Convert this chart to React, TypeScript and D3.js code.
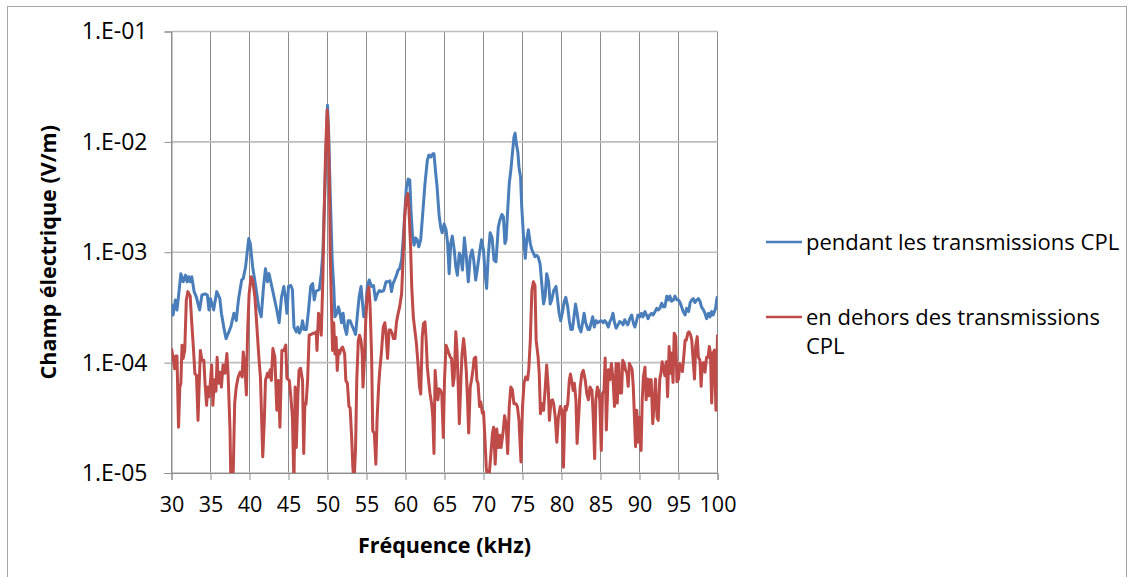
import React, { useEffect, useRef } from "react";
import * as d3 from "d3";

// frequency (kHz), field (V/m)
const duringCPL: [number, number][] = [
  [30.0, 3.4e-4], [30.2, 2.7e-4], [30.5, 3.7e-4], [30.7, 3.0e-4], [30.85, 3.7e-4], [31.2, 6.4e-4], [31.5, 5.4e-4],
  [31.8, 6.2e-4], [32.0, 5.4e-4], [32.2, 6.0e-4], [32.4, 5.4e-4], [32.6, 6.0e-4], [32.9, 4.4e-4], [33.2, 3.9e-4],
  [33.4, 3.4e-4], [33.6, 3.0e-4], [33.9, 4.1e-4], [34.3, 4.2e-4], [34.6, 4.1e-4], [34.8, 3.0e-4], [35.0, 3.8e-4],
  [35.4, 3.0e-4], [35.8, 4.4e-4], [36.2, 3.8e-4], [36.4, 2.8e-4], [36.75, 2.0e-4], [37.0, 1.65e-4], [37.35, 1.9e-4],
  [37.6, 2.1e-4], [38.0, 2.8e-4], [38.3, 2.4e-4], [38.6, 3.8e-4], [39.0, 5.6e-4], [39.2, 5.8e-4], [39.5, 7.4e-4],
  [39.9, 1.33e-3], [40.1, 1.2e-3], [40.4, 7.4e-4], [40.8, 4.9e-4], [41.2, 3.1e-4], [41.5, 2.6e-4], [41.8, 4.9e-4],
  [42.05, 7.1e-4], [42.3, 5.4e-4], [42.5, 6.4e-4], [43.0, 4.4e-4], [43.5, 3.0e-4], [43.8, 2.3e-4], [44.1, 3.9e-4],
  [44.4, 4.9e-4], [44.6, 3.9e-4], [44.8, 2.8e-4], [45.0, 4.9e-4], [45.3, 5.0e-4], [45.5, 4.6e-4], [45.7, 2.1e-4],
  [46.0, 1.9e-4], [46.2, 2.1e-4], [46.4, 1.85e-4], [46.6, 2.0e-4], [46.8, 2.4e-4], [47.0, 2.0e-4], [47.3, 2.0e-4],
  [47.55, 2.9e-4], [47.85, 4.9e-4], [48.1, 5.2e-4], [48.3, 3.7e-4], [48.5, 4.4e-4], [48.7, 4.5e-4], [48.95, 4.6e-4],
  [49.2, 6.4e-4], [49.4, 9.7e-4], [49.6, 2.6e-3], [49.8, 7.8e-3], [50.0, 2.15e-2], [50.15, 1.19e-2], [50.35, 3.4e-3],
  [50.6, 8.5e-4], [50.8, 4.9e-4], [50.95, 2.6e-4], [51.2, 2.8e-4], [51.4, 3.2e-4], [51.6, 2.8e-4], [51.8, 2.3e-4],
  [52.0, 2.8e-4], [52.2, 2.1e-4], [52.45, 1.8e-4], [52.65, 2.4e-4], [52.9, 2.4e-4], [53.1, 2.2e-4], [53.35, 2.0e-4],
  [53.6, 1.8e-4], [53.85, 2.8e-4], [54.05, 3.9e-4], [54.3, 4.9e-4], [54.45, 3.7e-4], [54.65, 2.6e-4], [54.9, 3.0e-4],
  [55.1, 4.9e-4], [55.35, 5.6e-4], [55.65, 4.9e-4], [55.9, 5.0e-4], [56.15, 3.7e-4], [56.4, 4.2e-4], [56.65, 4.5e-4],
  [56.9, 4.4e-4], [57.2, 4.5e-4], [57.5, 5.4e-4], [57.8, 5.4e-4], [58.0, 5.5e-4], [58.2, 4.4e-4], [58.4, 5.2e-4],
  [58.6, 5.6e-4], [58.85, 6.2e-4], [59.05, 6.9e-4], [59.25, 7.1e-4], [59.5, 8.5e-4], [59.7, 1.3e-3], [59.9, 2.2e-3],
  [60.1, 3.8e-3], [60.35, 4.6e-3], [60.55, 4.5e-3], [60.7, 2.4e-3], [60.9, 1.4e-3], [61.1, 1.16e-3], [61.3, 1.35e-3],
  [61.5, 1.3e-3], [61.7, 1.12e-3], [61.95, 1.3e-3], [62.2, 2.2e-3], [62.5, 4.2e-3], [62.8, 6.8e-3], [63.0, 7.6e-3],
  [63.25, 7.3e-3], [63.5, 7.8e-3], [63.65, 7.8e-3], [63.85, 5.4e-3], [64.05, 3.9e-3], [64.3, 2.2e-3], [64.5, 1.7e-3],
  [64.7, 1.5e-3], [64.95, 1.8e-3], [65.2, 1.6e-3], [65.4, 1.2e-3], [65.6, 6.4e-4], [65.8, 1.2e-3], [66.0, 1.4e-3],
  [66.25, 1.05e-3], [66.45, 7.4e-4], [66.65, 6.2e-4], [66.9, 9.8e-4], [67.1, 9.1e-4], [67.3, 6.9e-4], [67.55, 1.35e-3],
  [67.8, 9.1e-4], [68.05, 5.4e-4], [68.3, 9.1e-4], [68.55, 1.05e-3], [68.75, 8.5e-4], [69.0, 5.6e-4], [69.25, 7.4e-4],
  [69.5, 1.0e-3], [69.75, 1.3e-3], [70.0, 1.05e-3], [70.2, 6.4e-4], [70.4, 4.7e-4], [70.6, 9.1e-4], [70.85, 1.5e-3],
  [71.1, 1.35e-3], [71.35, 8.5e-4], [71.6, 8.2e-4], [71.9, 1.7e-3], [72.1, 1.95e-3], [72.35, 2.2e-3], [72.55, 2.1e-3],
  [72.75, 1.2e-3], [72.9, 1.3e-3], [73.1, 2.4e-3], [73.3, 4.2e-3], [73.5, 5.5e-3], [73.7, 7.8e-3], [73.9, 1.1e-2],
  [74.05, 1.2e-2], [74.2, 9.7e-3], [74.4, 8.1e-3], [74.55, 5.9e-3], [74.75, 4.8e-3], [74.9, 2.6e-3], [75.1, 1.5e-3],
  [75.35, 8.8e-4], [75.55, 1.3e-3], [75.75, 1.6e-3], [76.0, 1.2e-3], [76.2, 1.05e-3], [76.4, 9.8e-4], [76.6, 9.1e-4],
  [76.8, 9.4e-4], [77.0, 9.1e-4], [77.25, 7.9e-4], [77.5, 4.9e-4], [77.7, 3.4e-4], [77.9, 4.0e-4], [78.1, 6.4e-4],
  [78.35, 5.4e-4], [78.55, 3.4e-4], [78.75, 3.7e-4], [79.0, 4.5e-4], [79.3, 4.9e-4], [79.5, 3.7e-4], [79.7, 2.8e-4],
  [79.9, 2.4e-4], [80.1, 2.8e-4], [80.35, 3.6e-4], [80.55, 3.9e-4], [80.8, 3.2e-4], [81.0, 2.4e-4], [81.2, 2.0e-4],
  [81.4, 2.0e-4], [81.6, 2.6e-4], [81.8, 3.4e-4], [82.0, 2.8e-4], [82.25, 2.1e-4], [82.5, 1.9e-4], [82.7, 2.3e-4],
  [82.9, 2.8e-4], [83.1, 2.3e-4], [83.4, 2.0e-4], [83.6, 2.0e-4], [83.8, 2.3e-4], [84.0, 2.6e-4], [84.2, 2.1e-4],
  [84.45, 2.4e-4], [84.65, 2.3e-4], [84.85, 2.35e-4], [85.1, 2.4e-4], [85.35, 2.3e-4], [85.55, 2.4e-4], [85.75, 2.3e-4],
  [86.0, 2.1e-4], [86.2, 2.35e-4], [86.4, 2.5e-4], [86.6, 2.8e-4], [86.8, 2.3e-4], [87.0, 2.05e-4], [87.25, 2.2e-4],
  [87.45, 2.35e-4], [87.7, 2.3e-4], [87.9, 2.2e-4], [88.1, 2.45e-4], [88.3, 2.3e-4], [88.5, 2.2e-4], [88.75, 2.5e-4],
  [89.0, 2.7e-4], [89.2, 2.3e-4], [89.4, 2.1e-4], [89.6, 2.35e-4], [89.8, 2.7e-4], [90.05, 2.6e-4], [90.25, 2.8e-4],
  [90.45, 2.6e-4], [90.7, 2.9e-4], [90.9, 2.7e-4], [91.1, 2.5e-4], [91.3, 2.7e-4], [91.55, 2.8e-4], [91.75, 2.7e-4],
  [92.0, 2.9e-4], [92.2, 3.1e-4], [92.4, 3.0e-4], [92.6, 3.1e-4], [92.85, 3.45e-4], [93.05, 3.2e-4], [93.25, 3.2e-4],
  [93.5, 4.0e-4], [93.7, 3.7e-4], [93.9, 4.0e-4], [94.1, 3.6e-4], [94.35, 3.7e-4], [94.55, 4.0e-4], [94.8, 3.7e-4],
  [95.0, 3.7e-4], [95.2, 3.5e-4], [95.4, 3.2e-4], [95.6, 2.9e-4], [95.85, 2.7e-4], [96.05, 3.1e-4], [96.3, 2.9e-4],
  [96.5, 3.5e-4], [96.7, 3.7e-4], [96.9, 3.8e-4], [97.1, 3.5e-4], [97.35, 3.7e-4], [97.55, 3.8e-4], [97.75, 3.6e-4],
  [97.95, 3.2e-4], [98.2, 3.0e-4], [98.4, 2.8e-4], [98.6, 2.5e-4], [98.85, 2.8e-4], [99.05, 2.6e-4], [99.25, 2.9e-4],
  [99.45, 2.7e-4], [99.75, 3.1e-4], [99.9, 3.7e-4], [100.0, 4.0e-4],
];

const outsideCPL: [number, number][] = [
  [30.0, 1.34e-4], [30.2, 1.12e-4], [30.4, 8.8e-5], [30.55, 1.15e-4], [30.7, 1.15e-4], [30.9, 2.6e-5], [31.07, 6.0e-5],
  [31.2, 6.5e-5], [31.35, 1.44e-4], [31.5, 1.09e-4], [31.7, 1.3e-4], [31.9, 3.7e-4], [32.1, 4.4e-4], [32.4, 4.0e-4],
  [32.55, 2.6e-4], [32.8, 1.39e-4], [33.0, 7.9e-5], [33.2, 7.7e-5], [33.4, 3.0e-5], [33.55, 6.3e-5], [33.7, 1.29e-4],
  [33.9, 1.05e-4], [34.15, 1.05e-4], [34.3, 6.5e-5], [34.5, 4.1e-5], [34.65, 6.0e-5], [34.8, 4.9e-5], [34.95, 6.2e-5],
  [35.15, 9.5e-5], [35.3, 4.1e-5], [35.5, 7.0e-5], [35.7, 5.5e-5], [35.85, 1.12e-4], [36.0, 6.5e-5], [36.2, 8.2e-5],
  [36.4, 6.0e-5], [36.6, 9.5e-5], [36.85, 8.0e-5], [37.1, 1.21e-4], [37.25, 8.0e-5], [37.5, 2.5e-5], [37.6, 9e-6],
  [37.9, 9e-6], [38.1, 4.3e-5], [38.3, 6.0e-5], [38.55, 7.4e-5], [38.8, 8.2e-5], [39.05, 7.4e-5], [39.2, 1.25e-4],
  [39.4, 9.5e-5], [39.6, 5.1e-5], [39.75, 1.83e-4], [39.95, 4.2e-4], [40.2, 6.0e-4], [40.4, 5.6e-4], [40.7, 3.9e-4],
  [40.95, 2.1e-4], [41.2, 1.12e-4], [41.4, 7.4e-5], [41.55, 3.2e-5], [41.7, 1.4e-5], [41.9, 3.0e-5], [42.05, 6.9e-5],
  [42.3, 8.0e-5], [42.45, 7.4e-5], [42.65, 8.6e-5], [42.8, 6.9e-5], [43.0, 1.34e-4], [43.25, 1.12e-4], [43.5, 3.7e-5],
  [43.7, 6.9e-5], [43.9, 2.6e-5], [44.15, 1.29e-4], [44.4, 1.29e-4], [44.65, 1.44e-4], [44.8, 7.2e-5], [45.1, 6.9e-5],
  [45.3, 4.9e-5], [45.5, 3.2e-5], [45.7, 8e-6], [45.85, 6.0e-5], [46.0, 1.7e-5], [46.2, 5.0e-5], [46.35, 8.5e-5],
  [46.55, 8.9e-5], [46.8, 6.9e-5], [46.95, 1.5e-5], [47.1, 4.3e-5], [47.25, 4.2e-5], [47.45, 6.9e-5], [47.65, 1.77e-4],
  [47.9, 1.8e-4], [48.15, 1.85e-4], [48.35, 1.85e-4], [48.55, 1.9e-4], [48.65, 1.29e-4], [48.85, 2.8e-4], [49.05, 2.4e-4],
  [49.2, 1.77e-4], [49.4, 5.6e-4], [49.55, 1.95e-3], [49.75, 7.8e-3], [49.95, 1.94e-2], [50.1, 1.37e-2], [50.25, 3.9e-3],
  [50.35, 9.7e-4], [50.55, 2.4e-4], [50.65, 1.29e-4], [50.8, 2.3e-4], [50.95, 1.2e-4], [51.1, 1.7e-4], [51.25, 8.5e-5],
  [51.4, 1.29e-4], [51.55, 1.2e-4], [51.75, 1.34e-4], [51.95, 1.38e-4], [52.2, 1.2e-4], [52.35, 6.9e-5], [52.55, 6.5e-5],
  [52.75, 4.0e-5], [52.9, 3.9e-5], [53.1, 2.1e-5], [53.25, 1.13e-5], [53.4, 8e-6], [53.6, 1.7e-5], [53.75, 6.9e-5],
  [53.95, 1.59e-4], [54.1, 1.77e-4], [54.3, 1.59e-4], [54.45, 1.2e-4], [54.55, 6.0e-5], [54.75, 1.12e-4], [54.9, 2.4e-4],
  [55.1, 4.2e-4], [55.3, 4.85e-4], [55.45, 3.4e-4], [55.65, 1.2e-4], [55.8, 2.4e-5], [56.0, 2.3e-5], [56.2, 1.2e-5],
  [56.35, 3.0e-5], [56.55, 6.0e-5], [56.7, 8.5e-5], [56.9, 1.2e-4], [57.15, 2.1e-4], [57.35, 2.3e-4], [57.5, 1.83e-4],
  [57.7, 1.09e-4], [57.9, 1.97e-4], [58.1, 1.97e-4], [58.3, 1.83e-4], [58.45, 1.65e-4], [58.65, 1.65e-4], [58.85, 2.34e-4],
  [59.05, 2.78e-4], [59.25, 3.2e-4], [59.5, 4.2e-4], [59.7, 9.1e-4], [59.9, 2.1e-3], [60.1, 3.1e-3], [60.3, 3.4e-3],
  [60.45, 2.4e-3], [60.65, 1.12e-3], [60.8, 4.85e-4], [61.0, 2.6e-4], [61.2, 1.97e-4], [61.4, 1.49e-4], [61.6, 9.8e-5],
  [61.8, 6.0e-5], [61.95, 5.2e-5], [62.15, 1.72e-4], [62.3, 2.25e-4], [62.5, 2.34e-4], [62.65, 1.59e-4], [62.8, 9.1e-5],
  [63.0, 6.5e-5], [63.15, 5.2e-5], [63.35, 4.25e-5], [63.5, 3.2e-5], [63.65, 1.5e-5], [63.8, 8.5e-5], [64.0, 5.2e-5],
  [64.15, 4.6e-5], [64.3, 5.8e-5], [64.5, 5.6e-5], [64.65, 5.2e-5], [64.85, 2.1e-5], [65.0, 6.9e-5], [65.2, 1.44e-4],
  [65.35, 1.34e-4], [65.55, 1.22e-4], [65.75, 1.12e-4], [65.9, 1.09e-4], [66.1, 6.2e-5], [66.25, 7.4e-5], [66.45, 1.9e-4],
  [66.6, 1.3e-4], [66.75, 6.5e-5], [66.9, 2.8e-5], [67.1, 6.9e-5], [67.25, 1.2e-4], [67.45, 1.65e-4], [67.6, 1.3e-4],
  [67.8, 8.2e-5], [67.95, 4.6e-5], [68.1, 2.3e-5], [68.3, 6.0e-5], [68.45, 6.9e-5], [68.65, 8.6e-5], [68.8, 1.09e-4],
  [69.0, 1.12e-4], [69.15, 6.9e-5], [69.3, 6.5e-5], [69.5, 4.0e-5], [69.65, 4.4e-5], [69.85, 3.5e-5], [70.0, 3.6e-5],
  [70.15, 2.3e-5], [70.35, 1.13e-5], [70.5, 9e-6], [70.7, 9e-6], [70.95, 1.5e-5], [71.15, 2.3e-5], [71.3, 2.6e-5],
  [71.5, 1.2e-5], [71.7, 2.5e-5], [71.9, 1.7e-5], [72.1, 2.2e-5], [72.25, 1.7e-5], [72.5, 2.3e-5], [72.7, 3.3e-5],
  [72.9, 2.8e-5], [73.1, 1.5e-5], [73.3, 4.0e-5], [73.5, 6.0e-5], [73.7, 5.7e-5], [73.9, 4.25e-5], [74.15, 4.25e-5],
  [74.35, 4.0e-5], [74.55, 3.0e-5], [74.8, 1.26e-5], [75.0, 4.0e-5], [75.2, 6.5e-5], [75.4, 7.4e-5], [75.65, 7.0e-5],
  [75.8, 8.6e-5], [76.0, 1.59e-4], [76.2, 4.5e-4], [76.4, 5.4e-4], [76.6, 5.0e-4], [76.75, 1.59e-4], [77.0, 1.12e-4],
  [77.15, 7.9e-5], [77.3, 3.45e-5], [77.5, 4.25e-5], [77.7, 3.7e-5], [77.9, 5.7e-5], [78.1, 9.5e-5], [78.3, 5.9e-5],
  [78.45, 3.0e-5], [78.65, 4.5e-5], [78.85, 4.6e-5], [79.0, 4.2e-5], [79.2, 3.2e-5], [79.4, 1.9e-5], [79.6, 3.2e-5],
  [79.85, 4.0e-5], [80.05, 3.7e-5], [80.25, 1.13e-5], [80.45, 4.0e-5], [80.6, 3.7e-5], [80.8, 4.25e-5], [81.0, 6.9e-5],
  [81.15, 7.9e-5], [81.3, 6.9e-5], [81.5, 5.6e-5], [81.65, 6.5e-5], [81.85, 4.6e-5], [82.0, 1.85e-5], [82.2, 3.2e-5],
  [82.4, 6.0e-5], [82.6, 7.9e-5], [82.8, 8.5e-5], [83.05, 6.9e-5], [83.25, 5.2e-5], [83.45, 4.6e-5], [83.65, 6.0e-5],
  [83.9, 5.6e-5], [84.05, 3.5e-5], [84.25, 1.35e-5], [84.4, 4.6e-5], [84.6, 6.0e-5], [84.75, 5.6e-5], [84.9, 4.6e-5],
  [85.1, 1.6e-5], [85.25, 5.2e-5], [85.45, 5.6e-5], [85.6, 1.1e-4], [85.75, 2.45e-5], [86.0, 8.6e-5], [86.2, 7.0e-5],
  [86.4, 9.8e-5], [86.6, 7.1e-5], [86.8, 4.0e-5], [87.0, 9.8e-5], [87.15, 4.3e-5], [87.35, 9.8e-5], [87.5, 5.3e-5],
  [87.7, 5.3e-5], [87.85, 1.05e-4], [88.05, 9.8e-5], [88.2, 8.6e-5], [88.4, 8.0e-5], [88.55, 6.1e-5], [88.7, 9.8e-5],
  [88.9, 9.2e-5], [89.05, 8.6e-5], [89.2, 6.1e-5], [89.5, 1.73e-5], [89.65, 3.7e-5], [89.85, 1.9e-5], [90.0, 3.2e-5],
  [90.2, 1.6e-5], [90.35, 4.6e-5], [90.5, 7.4e-5], [90.7, 9.1e-5], [90.85, 4.6e-5], [91.05, 7.1e-5], [91.2, 5.0e-5],
  [91.35, 7.0e-5], [91.5, 7.0e-5], [91.7, 2.8e-5], [91.9, 4.6e-5], [92.05, 7.1e-5], [92.25, 3.2e-5], [92.4, 3.0e-5],
  [92.6, 7.1e-5], [92.75, 8.0e-5], [92.9, 1.02e-4], [93.1, 8.9e-5], [93.25, 7.6e-5], [93.45, 1.02e-4], [93.6, 4.9e-5],
  [93.8, 1.4e-4], [93.95, 8.0e-5], [94.1, 1.22e-4], [94.3, 6.6e-5], [94.45, 1.85e-4], [94.65, 1.72e-4], [94.8, 6.7e-5],
  [95.0, 7.1e-5], [95.15, 9.8e-5], [95.3, 8.9e-5], [95.5, 8.3e-5], [95.65, 1.08e-4], [95.85, 1.6e-4], [96.0, 1.6e-4],
  [96.2, 1.85e-4], [96.35, 1.9e-4], [96.55, 1.78e-4], [96.7, 1.6e-4], [96.9, 1.0e-4], [97.05, 7.1e-5], [97.2, 1.4e-4],
  [97.4, 1.72e-4], [97.55, 1.12e-4], [97.75, 1.05e-4], [97.9, 6.1e-5], [98.05, 9.8e-5], [98.25, 1.0e-4], [98.4, 8.2e-5],
  [98.6, 1.12e-4], [98.8, 1.12e-4], [98.95, 1.4e-4], [99.1, 1.22e-4], [99.25, 4.3e-5], [99.45, 1.22e-4], [99.6, 1.3e-4],
  [99.8, 3.7e-5], [99.95, 1.1e-4], [100.0, 1.8e-4],
];

const xTicks = [30, 35, 40, 45, 50, 55, 60, 65, 70, 75, 80, 85, 90, 95, 100];
const yTicks = [1e-5, 1e-4, 1e-3, 1e-2, 1e-1];
const yTickLabels = ["1.E-05", "1.E-04", "1.E-03", "1.E-02", "1.E-01"];
const seriesNames = ["pendant les transmissions CPL", "en dehors des transmissions CPL"];
const seriesColors = ["#4a7ebb", "#be4b48"];

const FONT = "'Open Sans', 'Noto Sans', sans-serif";

export default function App() {
  const ref = useRef<SVGSVGElement>(null);

  useEffect(() => {
    const svg = d3.select(ref.current);
    svg.selectAll("*").remove();

    const left = 171.5, right = 717.5, top = 31.5, bottom = 473;
    const x = d3.scaleLinear().domain([30, 100]).range([left, right]);
    const y = d3.scaleLog().domain([1e-5, 1e-1]).range([bottom, top]);

    // chart frame
    svg.append("rect").attr("x", 7.5).attr("y", 6.5).attr("width", 1119).attr("height", 600)
      .attr("fill", "white").attr("stroke", "#a6a6a6").attr("stroke-width", 1);

    svg.append("clipPath").attr("id", "plotclip").append("rect")
      .attr("x", left).attr("y", top).attr("width", right - left).attr("height", bottom - top);

    // grid
    svg.append("g").selectAll("line").data(xTicks).join("line")
      .attr("x1", d => x(d)).attr("x2", d => x(d)).attr("y1", top).attr("y2", bottom)
      .attr("stroke", "#8c8c8c").attr("stroke-width", 1);
    svg.append("g").selectAll("line").data(yTicks).join("line")
      .attr("x1", left).attr("x2", right).attr("y1", d => y(d)).attr("y2", d => y(d))
      .attr("stroke", "#bdbdbd").attr("stroke-width", 1.6);

    // axes
    const yAxis = svg.append("g").attr("transform", `translate(${left},0)`)
      .call(d3.axisLeft(y).tickValues(yTicks).tickSize(7).tickPadding(17)
        .tickFormat((d, i) => yTickLabels[i]));
    const xAxis = svg.append("g").attr("transform", `translate(0,${bottom})`)
      .call(d3.axisBottom(x).tickValues(xTicks).tickSize(7).tickPadding(17));
    [xAxis, yAxis].forEach(a => {
      a.select(".domain").attr("stroke", "#8c8c8c");
      a.selectAll(".tick line").attr("stroke", "#8c8c8c");
      a.selectAll("text").attr("font-family", FONT).attr("fill", "#000");
    });
    yAxis.selectAll("text").attr("font-size", 23);
    xAxis.selectAll("text").attr("font-size", 21.5);

    // lines
    const line = d3.line<[number, number]>().x(d => x(d[0])).y(d => y(d[1]));
    [duringCPL, outsideCPL].forEach((s, i) => {
      svg.append("path").datum(s).attr("d", line).attr("clip-path", "url(#plotclip)")
        .attr("fill", "none").attr("stroke", seriesColors[i]).attr("stroke-width", 3)
        .attr("stroke-linejoin", "round");
    });

    // axis titles
    svg.append("text").attr("x", (left + right) / 2).attr("y", 553).attr("text-anchor", "middle")
      .attr("font-family", FONT).attr("font-weight", "bold").attr("font-size", 21.5).text("Fréquence (kHz)");
    svg.append("text").attr("transform", `translate(56,${(top + bottom) / 2}) rotate(-90)`)
      .attr("text-anchor", "middle").attr("font-family", FONT).attr("font-weight", "bold")
      .attr("font-size", 21.5).text("Champ électrique (V/m)");

    // legend
    const legend = svg.append("g");
    const ly = [242, 317];
    seriesNames.forEach((name, i) => {
      legend.append("line").attr("x1", 766).attr("x2", 802).attr("y1", ly[i]).attr("y2", ly[i])
        .attr("stroke", seriesColors[i]).attr("stroke-width", 2.6);
    });
    legend.append("text").attr("x", 806).attr("y", ly[0] + 8).attr("font-family", FONT)
      .attr("font-size", 22).text(seriesNames[0]);
    const t = legend.append("text").attr("x", 806).attr("y", ly[1] + 8).attr("font-family", FONT).attr("font-size", 22);
    t.append("tspan").text("en dehors des transmissions");
    t.append("tspan").attr("x", 806).attr("dy", 29).text("CPL");
  }, []);

  return (
    <svg ref={ref} width={1134} height={577}
      style={{ position: "absolute", left: 0, top: 0, background: "white" }} />
  );
}
